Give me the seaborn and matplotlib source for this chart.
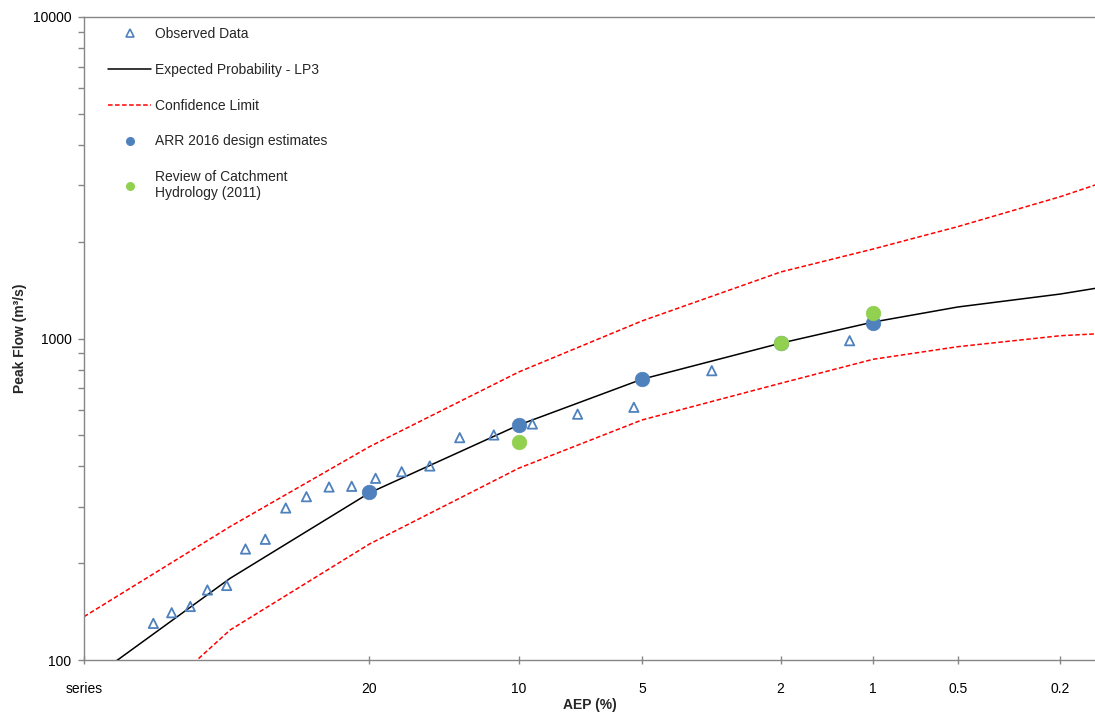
import matplotlib
matplotlib.use("Agg")
import matplotlib.pyplot as plt
from matplotlib.lines import Line2D
from matplotlib.ticker import FixedLocator, FixedFormatter, NullFormatter
import seaborn as sns
import pandas as pd
from statistics import NormalDist

# Observed annual peaks: plotting-position AEP (%) and peak flow (m3/s)
obs_aep = [41.9, 39.8, 37.7, 35.8, 33.7, 31.7, 29.65, 27.6, 25.6, 23.5, 21.5,
           19.5, 17.45, 15.4, 13.4, 11.35, 9.31, 7.28, 5.25, 3.21, 1.20]
obs_flow = [130.0, 140.3, 146.7, 165.1, 170.5, 221.4, 237.4, 297.0, 322.1, 345.2, 346.9,
            367.4, 385.2, 401.3, 491.6, 501.1, 542.1, 581.6, 611.0, 794.1, 984.5]

# LP3 expected-probability quantiles and confidence limits
fit_aep = [50, 33.33, 20, 10, 5, 2, 1, 0.5, 0.2, 0.1]
lp3_flow = [84, 179.5, 331, 538, 747, 967, 1125, 1253, 1375, 1495]
upper_flow = [136.4, 260, 460.8, 786.6, 1134, 1610, 1898, 2228, 2761, 3281]
lower_flow = [48, 124, 229.5, 394.9, 557.9, 725.5, 861.7, 943, 1020, 1048]

# Design estimates
arr_aep = [20, 10, 5, 2, 1]
arr_flow = [332, 538, 747, 966, 1115]
rch_aep = [10, 2, 1]
rch_flow = [477.5, 966, 1203]

# Axis ticks
tick_aep = [50, 20, 10, 5, 2, 1, 0.5, 0.2]
tick_labels = ["series", "20", "10", "5", "2", "1", "0.5", "0.2"]
y_major = [100, 1000, 10000]
y_labels = ["100", "1000", "10000"]

BLUE = "#4F81BD"
GREEN = "#92D050"
RED = "#FF0000"
GREY = "#868686"


def z_of(aep_pct):
    """Standard normal deviate for an exceedance probability given in percent."""
    return [NormalDist().inv_cdf(1 - a / 100.0) for a in aep_pct]


obs = pd.DataFrame({"z": z_of(obs_aep), "flow": obs_flow})
fit = pd.DataFrame({"z": z_of(fit_aep), "lp3": lp3_flow,
                    "upper": upper_flow, "lower": lower_flow})
arr = pd.DataFrame({"z": z_of(arr_aep), "flow": arr_flow})
rch = pd.DataFrame({"z": z_of(rch_aep), "flow": rch_flow})

sns.set_theme(style="ticks")
plt.rcParams["font.family"] = ["Liberation Sans", "DejaVu Sans"]

fig = plt.figure(figsize=(10.95, 7.19), dpi=100)
ax = fig.add_axes([84 / 1095, 59 / 719, 1 - 84 / 1095, 643 / 719])

dash = (0, (3, 1.6))
sns.lineplot(data=fit, x="z", y="upper", ax=ax, color=RED, linewidth=1.1,
             linestyle=dash, sort=False, estimator=None, zorder=2)
sns.lineplot(data=fit, x="z", y="lower", ax=ax, color=RED, linewidth=1.1,
             linestyle=dash, sort=False, estimator=None, zorder=2)
sns.lineplot(data=fit, x="z", y="lp3", ax=ax, color="black", linewidth=1.1,
             sort=False, estimator=None, zorder=3)

sns.scatterplot(data=obs, x="z", y="flow", ax=ax, marker="^", s=45,
                color=BLUE, zorder=4)
tri = ax.collections[-1]
tri.set_facecolor("none")
tri.set_edgecolor(BLUE)
tri.set_linewidth(1.3)

sns.scatterplot(data=arr, x="z", y="flow", ax=ax, s=110, color=BLUE,
                edgecolor=BLUE, linewidth=0.5, zorder=5)
sns.scatterplot(data=rch, x="z", y="flow", ax=ax, s=110, color=GREEN,
                edgecolor=GREEN, linewidth=0.5, zorder=6)

ax.set_yscale("log")
ax.set_ylim(100, 10000)
ax.set_xlim(0, (1095 - 84) / 339.2)

ax.xaxis.set_major_locator(FixedLocator(z_of(tick_aep)))
ax.xaxis.set_major_formatter(FixedFormatter(tick_labels))
ax.yaxis.set_major_locator(FixedLocator(y_major))
ax.yaxis.set_major_formatter(FixedFormatter(y_labels))
ax.yaxis.set_minor_locator(FixedLocator(
    [m * d for d in (100, 1000) for m in range(2, 10)]))
ax.yaxis.set_minor_formatter(NullFormatter())

ax.tick_params(axis="x", which="major", direction="inout", length=6,
               width=1, color=GREY, labelsize=10, pad=13, labelcolor="black")
ax.tick_params(axis="y", which="major", direction="out", length=4,
               width=1, color=GREY, labelsize=10, pad=5, labelcolor="black")
ax.tick_params(axis="y", which="minor", direction="out", length=4,
               width=1, color=GREY)

for side in ("left", "bottom", "top"):
    ax.spines[side].set_color(GREY)
    ax.spines[side].set_linewidth(1.0)
ax.spines["right"].set_visible(False)

ax.set_xlabel("AEP (%)", fontsize=10, fontweight="bold", labelpad=1)
ax.set_ylabel("Peak Flow (m³/s)", fontsize=10, fontweight="bold", labelpad=4)

handles = [
    Line2D([], [], linestyle="none", marker="^", markersize=6,
           markerfacecolor="none", markeredgecolor=BLUE, markeredgewidth=1.2),
    Line2D([], [], color="black", linewidth=1.1),
    Line2D([], [], color=RED, linewidth=1.1, linestyle=dash),
    Line2D([], [], linestyle="none", marker="o", markersize=5.5,
           markerfacecolor=BLUE, markeredgecolor=BLUE),
    Line2D([], [], linestyle="none", marker="o", markersize=5.5,
           markerfacecolor=GREEN, markeredgecolor=GREEN),
]
labels = ["Observed Data", "Expected Probability - LP3", "Confidence Limit",
          "ARR 2016 design estimates", "Review of Catchment\nHydrology (2011)"]
ax.legend(handles, labels, loc="upper left",
          bbox_to_anchor=(24 / 1011, 1 - 10 / 643), frameon=False,
          fontsize=10, handlelength=3.1, handletextpad=0.3,
          labelspacing=1.57, borderpad=0, borderaxespad=0)

fig.savefig("out.png", dpi=100)
